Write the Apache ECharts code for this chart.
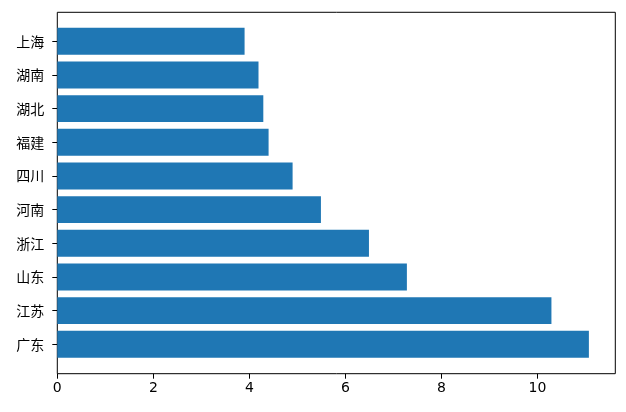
<!DOCTYPE html>
<html>
<head>
<meta charset="utf-8">
<script src="https://cdn.jsdelivr.net/npm/echarts@6/dist/echarts.min.js"></script>
<style>html,body{margin:0;padding:0;background:#fff;}#c{width:626px;height:412px;}</style>
</head>
<body>
<div id="c"></div>
<script>
const categories = ['广东','江苏','山东','浙江','河南','四川','福建','湖北','湖南','上海'];
const values = [11.07, 10.29, 7.28, 6.49, 5.49, 4.9, 4.4, 4.29, 4.19, 3.9];
const xTicks = [0, 2, 4, 6, 8, 10];

const chart = echarts.init(document.getElementById('c'), null, {renderer:'canvas'});
const boxLeft = 57.3, boxRight = 626 - 615.3, boxTop = 12.3, boxBottom = 412 - 373.7;
const font = 'DejaVu Sans, "Noto Sans CJK SC", sans-serif';
chart.setOption({
  animation: false,
  backgroundColor: '#ffffff',
  grid: [
    {left: boxLeft, right: boxRight, top: 24.5, bottom: 50.9, containLabel: false},
    {left: boxLeft, right: boxRight, top: boxTop, bottom: boxBottom, show: true, borderColor: '#000', borderWidth: 1, backgroundColor: 'transparent'}
  ],
  xAxis: [
    {
      gridIndex: 0, type: 'value', min: 0, max: 11.62, interval: 2, position: 'bottom', offset: 12.6,
      axisLine: {show: false},
      axisTick: {show: true, length: 5, lineStyle: {color: '#000', width: 1}},
      axisLabel: {color: '#000', fontSize: 14, fontFamily: font, margin: 8, showMaxLabel: false,
        formatter: v => xTicks.indexOf(v) >= 0 ? String(v) : ''},
      splitLine: {show: false}
    },
    {gridIndex: 1, type: 'value', min: 0, max: 1, show: false}
  ],
  yAxis: [
    {
      gridIndex: 0, type: 'category', data: categories, inverse: false,
      axisLine: {show: false},
      axisTick: {show: true, alignWithLabel: true, length: 5, lineStyle: {color: '#000', width: 1}},
      axisLabel: {color: '#000', fontSize: 14, fontFamily: '"Noto Sans CJK SC", sans-serif', margin: 13},
      splitLine: {show: false}
    },
    {gridIndex: 1, type: 'value', min: 0, max: 1, show: false}
  ],
  series: [{
    type: 'bar', xAxisIndex: 0, yAxisIndex: 0, data: values,
    barWidth: '80%', itemStyle: {color: '#1f77b4'}
  }]
});
</script>
</body>
</html>
